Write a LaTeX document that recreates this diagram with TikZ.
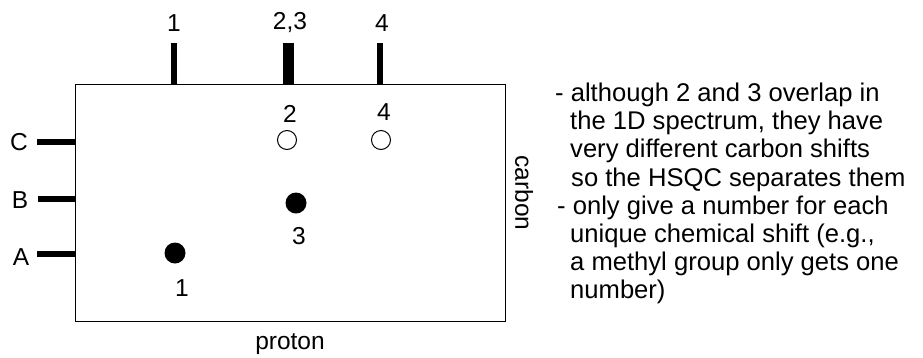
\documentclass[tikz,border=0pt]{standalone}
\usepackage{fontspec}
\setmainfont{Liberation Sans}
\begin{document}
\begin{tikzpicture}[x=1pt,y=-1pt,
  lbl/.style={font=\fontsize{24.5}{28}\selectfont, inner sep=0pt},
  peak/.style={line width=6pt},
  xpk/.style={circle, draw, line width=1pt, minimum size=19pt, inner sep=0pt},
  fpk/.style={circle, fill=black, minimum size=21pt, inner sep=0pt},
  note/.style={font=\fontsize{25.6}{28.1}\selectfont, inner sep=0pt, align=left, anchor=north west}]
\useasboundingbox (0,0) rectangle (923,357);
% spectrum frame
\node[draw, line width=1.3pt, minimum width=430pt, minimum height=237pt, inner sep=0pt, anchor=north west] (frame) at (75,84) {};
% proton 1D peaks along the top
\coordinate (t1) at (174,84);
\coordinate (t23) at (288.5,84);
\coordinate (t4) at (380,84);
\draw[peak] (t1) -- ++(0,-41) coordinate (t1e);
\draw[line width=11pt] (t23) -- ++(0,-41) coordinate (t23e);
\draw[peak] (t4) -- ++(0,-41) coordinate (t4e);
\node[lbl] (l1) at (174,23) {1};
\node[lbl] (l23) at (290,23) {2,3};
\node[lbl] (l4) at (382,23) {4};
% carbon peaks along the left
\coordinate (cC) at (75,142);
\coordinate (cB) at (75,199);
\coordinate (cA) at (75,254);
\draw[peak] (cC) -- ++(-38,0);
\draw[peak] (cB) -- ++(-37,0);
\draw[peak] (cA) -- ++(-38,0);
\node[lbl] (lC) at (19,142) {C};
\node[lbl] (lB) at (20,200) {B};
\node[lbl] (lA) at (21,257) {A};
% cross peaks
\node[xpk] (p2) at (287,140) {};
\node[xpk] (p4) at (381,140) {};
\node[fpk] (p3) at (296,203) {};
\node[fpk] (p1) at (175,253) {};
\node[lbl] (n2) at (290,114) {2};
\node[lbl] (n4) at (384,112) {4};
\node[lbl] (n3) at (299,236) {3};
\node[lbl] (n1) at (182,288) {1};
% axis titles
\node[lbl] (xt) at (290,344) {proton};
\node[lbl, rotate=-90] (yt) at (524,193) {carbon};
% notes
\node[note] (notes) at (555,83) {%
- although 2 and 3 overlap in\\
\hspace*{15pt}the 1D spectrum, they have\\
\hspace*{15pt}very different carbon shifts\\
\hspace*{16pt}so the HSQC separates them\\
\hspace*{2pt}- only give a number for each\\
\hspace*{15pt}unique chemical shift (e.g.,\\
\hspace*{15pt}a methyl group only gets one\\
\hspace*{15pt}number)};
\end{tikzpicture}
\end{document}
